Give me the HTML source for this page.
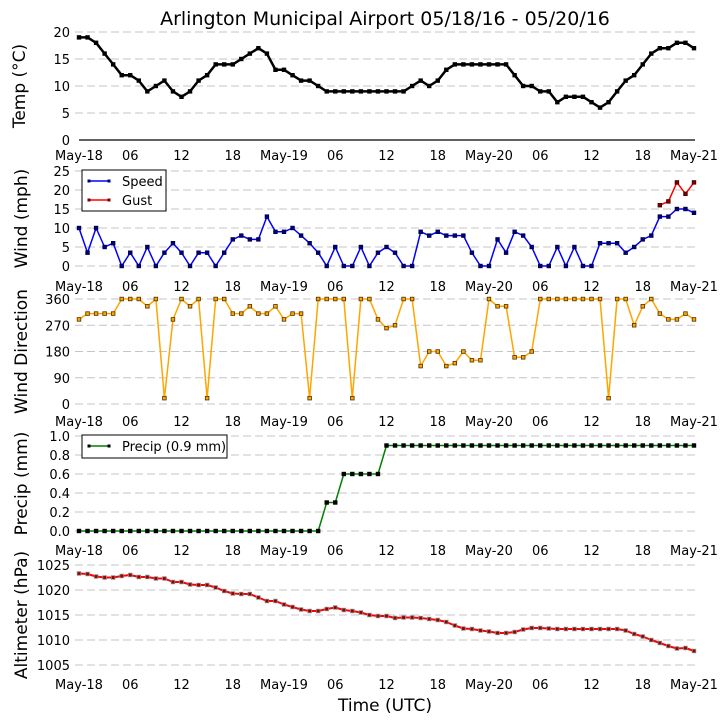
<!DOCTYPE html>
<html><head><meta charset="utf-8">
<style>
html,body{margin:0;padding:0;background:#fff;}
svg{display:block;font-family:"DejaVu Sans","Liberation Sans",sans-serif;}
</style></head>
<body>
<svg id="chart" width="727" height="725" viewBox="0 0 727 725">
<text x="385" y="25" font-size="19" text-anchor="middle">Arlington Municipal Airport 05/18/16 - 05/20/16</text>
<text x="385" y="711" font-size="17" text-anchor="middle">Time (UTC)</text>
</svg>
<script>
const hours = [];
for (let i = 0; i <= 72; i++) hours.push(i);
const xTickLabels = ["May-18","06","12","18","May-19","06","12","18","May-20","06","12","18","May-21"];
const xTickHours = [0,6,12,18,24,30,36,42,48,54,60,66,72];

const tempValues = [19,19,18,16,14,12,12,11,9,10,11,9,8,9,11,12,14,14,14,15,16,17,16,13,13,12,11,11,10,9,9,9,9,9,9,9,9,9,9,10,11,10,11,13,14,14,14,14,14,14,14,12,10,10,9,9,7,8,8,8,7,6,7,9,11,12,14,16,17,17,18,18,17];
const tempTicks = [0,5,10,15,20];

const speedValues = [10,3.5,10,5,6,0,3.5,0,5,0,3.5,6,3.5,0,3.5,3.5,0,3.5,7,8,7,7,13,9,9,10,8,6,3.5,0,5,0,0,5,0,3.5,5,3.5,0,0,9,8,9,8,8,8,3.5,0,0,7,3.5,9,8,5,0,0,5,0,5,0,0,6,6,6,3.5,5,7,8,13,13,15,15,14];
const gustValues = [null,null,null,null,null,null,null,null,null,null,null,null,null,null,null,null,null,null,null,null,null,null,null,null,null,null,null,null,null,null,null,null,null,null,null,null,null,null,null,null,null,null,null,null,null,null,null,null,null,null,null,null,null,null,null,null,null,null,null,null,null,null,null,null,null,null,null,null,16,17,22,19,22];
const windTicks = [0,5,10,15,20,25];

const dirValues = [290,310,310,310,310,360,360,360,335,360,20,290,360,335,360,20,360,360,310,310,335,310,310,335,290,310,310,20,360,360,360,360,20,360,360,290,260,270,360,360,130,180,180,130,140,180,150,150,360,335,335,160,160,180,360,360,360,360,360,360,360,360,20,360,360,270,335,360,310,290,290,310,290];
const dirTicks = [0,90,180,270,360];

const precipValues = [0,0,0,0,0,0,0,0,0,0,0,0,0,0,0,0,0,0,0,0,0,0,0,0,0,0,0,0,0,0.3,0.3,0.6,0.6,0.6,0.6,0.6,0.9,0.9,0.9,0.9,0.9,0.9,0.9,0.9,0.9,0.9,0.9,0.9,0.9,0.9,0.9,0.9,0.9,0.9,0.9,0.9,0.9,0.9,0.9,0.9,0.9,0.9,0.9,0.9,0.9,0.9,0.9,0.9,0.9,0.9,0.9,0.9,0.9];
const precipTicks = [0.0,0.2,0.4,0.6,0.8,1.0];
const precipTickLabels = ["0.0","0.2","0.4","0.6","0.8","1.0"];

const altValues = [1023.3,1023.2,1022.7,1022.5,1022.5,1022.8,1023,1022.6,1022.6,1022.3,1022.3,1021.6,1021.6,1021.1,1021,1021,1020.5,1019.8,1019.3,1019.2,1019.2,1018.5,1017.8,1017.8,1017.1,1016.6,1016.1,1015.8,1015.8,1016.2,1016.5,1016.0,1015.8,1015.5,1015.0,1014.8,1014.8,1014.4,1014.5,1014.5,1014.4,1014.2,1014.0,1013.6,1012.9,1012.3,1012.2,1011.9,1011.7,1011.4,1011.4,1011.6,1012.1,1012.4,1012.4,1012.3,1012.2,1012.2,1012.2,1012.2,1012.2,1012.2,1012.2,1012.2,1011.9,1011.2,1010.7,1010.0,1009.4,1008.8,1008.3,1008.4,1007.8];
const altTicks = [1005,1010,1015,1020,1025];

const NS = "http://www.w3.org/2000/svg";
const svg = document.getElementById("chart");
const X0 = 79, X1 = 694;
function xScale(h){ return X0 + (X1 - X0) * h / 72; }
function mk(tag, attrs, parent){
  const e = document.createElementNS(NS, tag);
  for (const k in attrs) e.setAttribute(k, attrs[k]);
  (parent || svg).appendChild(e);
  return e;
}

function panel(cfg){
  const g = mk("g", {});
  
  
  const yS = v => cfg.yBot + (cfg.yTop - cfg.yBot) * (v - cfg.vMin) / (cfg.vMax - cfg.vMin);
  cfg.ticks.forEach((t, i) => {
    const y = yS(t);
    const isAxis = cfg.solidZero && i === 0;
    const gl = mk("line", {x1: isAxis ? X0 : 75, x2: X1 + 1, y1: y, y2: y,
      stroke: isAxis ? "#000" : "#c4c4c4", "stroke-width": isAxis ? 1.2 : 1,
      "stroke-dasharray": isAxis ? "none" : "8,4"}, g);
    
    
    const tl = mk("text", {x: 70, y: y + 5, "font-size": 13, "text-anchor": "end"}, g);
    tl.textContent = cfg.tickLabels ? cfg.tickLabels[i] : String(t);
    
    
  });
  xTickHours.forEach((h, i) => {
    const tl = mk("text", {x: xScale(h), y: cfg.xLabelY, "font-size": 13, "text-anchor": "middle"}, g);
    tl.textContent = xTickLabels[i];
    
    
  });
  const yt = mk("text", {x: 0, y: 0, "font-size": 17, "text-anchor": "middle",
    transform: "translate(" + cfg.titleX + "," + ((cfg.yTop + cfg.yBot) / 2) + ") rotate(-90)"}, g);
  yt.textContent = cfg.title;
  
  

  cfg.series.forEach(s => {
    let d = "", pen = false;
    s.values.forEach((v, i) => {
      if (v === null || v === undefined) { pen = false; return; }
      d += (pen ? "L" : "M") + xScale(hours[i]).toFixed(1) + "," + yS(v).toFixed(1);
      pen = true;
    });
    const p = mk("path", {d: d, fill: "none", stroke: s.color, "stroke-width": s.width || 1.5, "stroke-linejoin": "round"}, g);
    
    
    s.values.forEach((v, i) => {
      if (v === null || v === undefined) return;
      const m = mk("rect", {x: xScale(hours[i]) - 1.8, y: yS(v) - 1.8, width: 3.6, height: 3.6,
        fill: s.marker, stroke: s.edge, "stroke-width": 0.8}, g);
      
      
    });
  });
  return g;
}

panel({name:"temp", title:"Temp (\u00B0C)", titleX:25, yTop:32, yBot:140, vMin:0, vMax:20,
  ticks:tempTicks, solidZero:true, xLabelY:160,
  series:[{name:"temp", values:tempValues, color:"#000", marker:"#000", edge:"#000", width:2.5}]});
panel({name:"wind", title:"Wind (mph)", titleX:27, yTop:171, yBot:266, vMin:0, vMax:25,
  ticks:windTicks, xLabelY:291,
  series:[{name:"wind-speed", values:speedValues, color:"#0000ff", marker:"#000080", edge:"#000040"},
          {name:"wind-gust", values:gustValues, color:"#ff0000", marker:"#800000", edge:"#400000"}]});
panel({name:"direction", title:"Wind Direction", titleX:27, yTop:299, yBot:404, vMin:0, vMax:360,
  ticks:dirTicks, xLabelY:426,
  series:[{name:"wind-direction", values:dirValues, color:"#ffa500", marker:"#ffa500", edge:"#503000"}]});
panel({name:"precip", title:"Precip (mm)", titleX:27, yTop:436, yBot:531, vMin:0, vMax:1,
  ticks:precipTicks, tickLabels:precipTickLabels, xLabelY:555,
  series:[{name:"precip", values:precipValues, color:"#008000", marker:"#000", edge:"#000"}]});
panel({name:"altimeter", title:"Altimeter (hPa)", titleX:27, yTop:565, yBot:665, vMin:1005, vMax:1025,
  ticks:altTicks, xLabelY:689,
  series:[{name:"altimeter", values:altValues, color:"#ff0000", marker:"#900000", edge:"#888", width:2}]});

// legends
function legend(x, y, w, h, entries, name){
  const g = mk("g", {});
  
  
  mk("rect", {x:x, y:y, width:w, height:h, fill:"#fff", stroke:"#000", "stroke-width":1}, g);
  entries.forEach((e, i) => {
    const cy = y + 11 + i * 19;
    const ln = mk("line", {x1:x+7, x2:x+27, y1:cy, y2:cy, stroke:e.color, "stroke-width":1.5}, g);
    
    
    [x+7, x+27].forEach(px => mk("rect", {x:px-1.5, y:cy-1.5, width:3, height:3, fill:e.marker}, g));
    const t = mk("text", {x:x+40, y:cy+5, "font-size":13}, g);
    t.textContent = e.label;
    
    
  });
}
legend(82, 170, 84, 41, [{label:"Speed", color:"#0000ff", marker:"#000080"},{label:"Gust", color:"#ff0000", marker:"#800000"}], "wind-legend");
legend(82, 435, 145, 23, [{label:"Precip (0.9 mm)", color:"#008000", marker:"#000"}], "precip-legend");
</script>
</body></html>
